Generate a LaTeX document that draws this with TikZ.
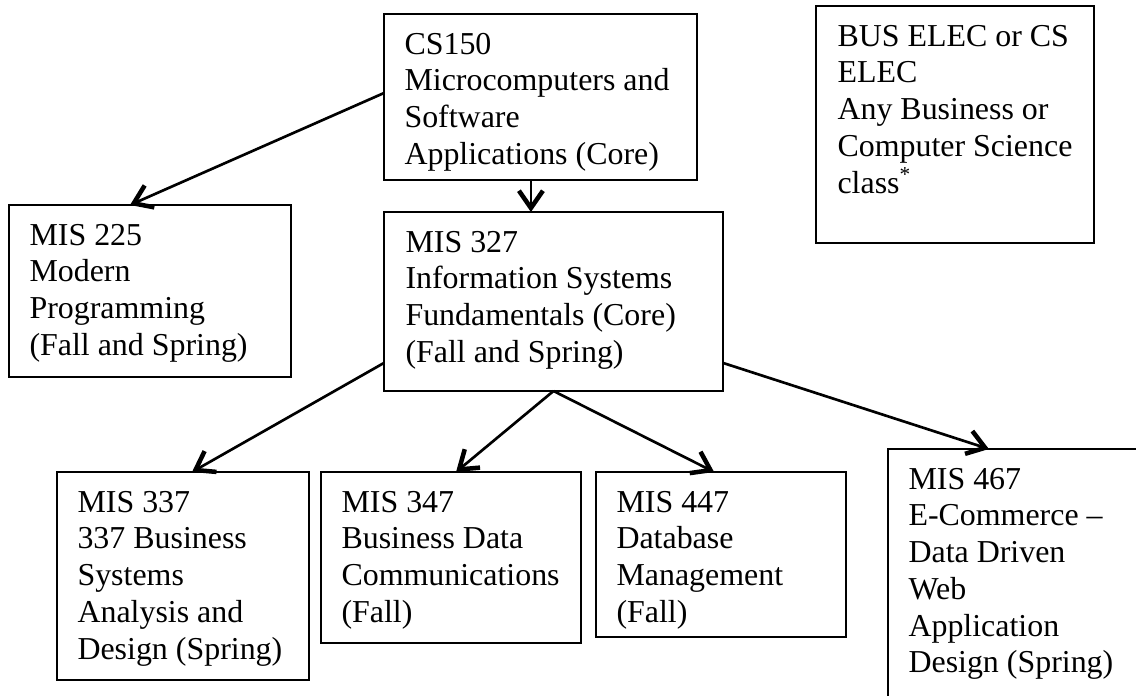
\documentclass[tikz,border=0pt]{standalone}
\usepackage{fontspec}
\setmainfont{Liberation Serif}
\usetikzlibrary{arrows.meta,calc}
\begin{document}
\begin{tikzpicture}[x=0.376pt,y=-0.376pt,
  box/.style={draw,line width=0.8pt,rectangle,inner sep=0pt,outer sep=0pt,anchor=north west},
  txt/.style={anchor=north west,inner sep=0pt,align=left,font=\fontsize{12pt}{13.8pt}\selectfont},
  arr/.style={line width=1pt,-{Straight Barb[length=6.5pt,width=9pt,line width=1.7pt]}}]
\clip (0,0) rectangle (1136,696);
\fill[white] (0,0) rectangle (1136,696);

\node[box,minimum width=313*0.376pt,minimum height=166*0.376pt] (cs) at (384,14) {};
\node[txt] (cst) at (404,28) {\strut CS150\\Microcomputers and\\Software\\Applications (Core)};

\node[box,minimum width=278*0.376pt,minimum height=237*0.376pt] (bus) at (816,6) {};
\node[txt] (bust) at (837,20) {\strut BUS ELEC or CS\\ELEC\\Any Business or\\Computer Science\\class\textsuperscript{*}};

\node[box,minimum width=282*0.376pt,minimum height=172*0.376pt] (m225) at (9,205) {};
\node[txt] (m225t) at (29,219) {\strut MIS 225\\Modern\\Programming\\(Fall and Spring)};

\node[box,minimum width=339*0.376pt,minimum height=179*0.376pt] (m327) at (384,212) {};
\node[txt] (m327t) at (405,226) {\strut MIS 327\\Information Systems\\Fundamentals (Core)\\(Fall and Spring)};

\node[box,minimum width=252*0.376pt,minimum height=208*0.376pt] (m337) at (57,472) {};
\node[txt] (m337t) at (77,486) {\strut MIS 337\\337 Business\\Systems\\Analysis and\\Design (Spring)};

\node[box,minimum width=260*0.376pt,minimum height=171*0.376pt] (m347) at (321,472) {};
\node[txt] (m347t) at (341,486) {\strut MIS 347\\Business Data\\Communications\\(Fall)};

\node[box,minimum width=250*0.376pt,minimum height=165*0.376pt] (m447) at (596,472) {};
\node[txt] (m447t) at (616,486) {\strut MIS 447\\Database\\Management\\(Fall)};

\node[box,minimum width=280*0.376pt,minimum height=280*0.376pt] (m467) at (888,449) {};
\node[txt] (m467t) at (908,463) {\strut MIS 467\\E-Commerce --\\Data Driven\\Web\\Application\\Design (Spring)};

\draw[arr] ([yshift=1.5pt]cs.west) -- ([xshift=-7.5pt]m225.north);
\draw[arr] ([xshift=-3.6pt]cs.south) -- ([xshift=-3.6pt]cs.south |- m327.north);
\draw[arr] ([yshift=-23.1pt]m327.west) -- ([xshift=3.4pt]m337.north);
\draw[arr] (m327.south) -- ([xshift=1.9pt]m347.north);
\draw[arr] (m327.south) -- ([xshift=-2.6pt]m447.north);
\draw[arr] ([yshift=-23.1pt]m327.east) -- ([xshift=-14.7pt]m467.north);
\end{tikzpicture}
\end{document}
